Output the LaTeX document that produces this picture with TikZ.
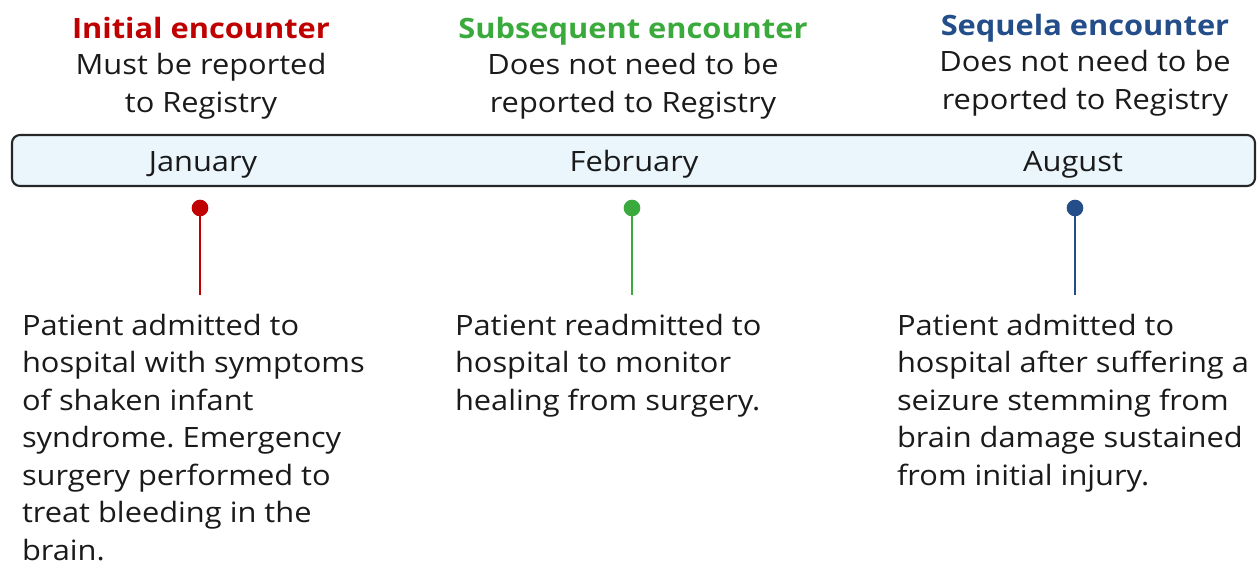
\documentclass[tikz,border=0pt]{standalone}
\usepackage{fontspec}
\setmainfont[FakeStretch=1.1]{Open Sans}
\definecolor{cred}{HTML}{C00000}
\definecolor{cgreen}{HTML}{3AAA3C}
\definecolor{cblue}{HTML}{234E8A}
\definecolor{barfill}{HTML}{EAF5FC}
\definecolor{txt}{HTML}{1A1A1A}
\frenchspacing
\begin{document}
\begin{tikzpicture}[x=0.75pt,y=-0.75pt,
  every node/.style={inner sep=0pt,outer sep=0pt,text=txt},
  bodyfont/.style={font=\fontsize{21}{28.1}\selectfont},
  title/.style={font=\fontsize{21}{28.1}\selectfont\bfseries,anchor=base},
  sub/.style={bodyfont,align=center,anchor=base},
  month/.style={bodyfont,anchor=base},
  desc/.style={bodyfont,align=left,anchor=base west},
  dotc/.style={circle,minimum size=12.5pt},
  stem/.style={line width=1.5pt}]
\useasboundingbox (0,0) rectangle (1260,565);
% bar
\draw[line width=1.6pt,draw=black!85,fill=barfill,rounded corners=6pt] (12,135) rectangle (1255,186);
% headers
\node[title,text=cred] (t1) at (201,38) {Initial encounter};
\node[sub] (s1) at (201,112) {Must be reported\\to Registry};
\node[title,text=cgreen] (t2) at (633,38) {Subsequent encounter};
\node[sub] (s2) at (633,112) {Does not need to be\\reported to Registry};
\node[title,text=cblue] (t3) at (1085,35) {Sequela encounter};
\node[sub] (s3) at (1085,109) {Does not need to be\\reported to Registry};
% months
\node[month] (m1) at (203,171) {January};
\node[month] (m2) at (634,171) {February};
\node[month] (m3) at (1073,171) {August};
% dots and stems
\node[dotc,fill=cred] (d1) at (200,208) {};
\node[dotc,fill=cgreen] (d2) at (632,208) {};
\node[dotc,fill=cblue] (d3) at (1075,208) {};
\coordinate (e1) at (200,295);
\coordinate (e2) at (632,295);
\coordinate (e3) at (1075,295);
\draw[stem,cred] (d1.center) -- (e1);
\draw[stem,cgreen] (d2.center) -- (e2);
\draw[stem,cblue] (d3.center) -- (e3);
% descriptions (anchored at the last line's baseline)
\node[desc] (b1) at (22,560) {Patient admitted to\\hospital with symptoms\\of shaken infant\\syndrome. Emergency\\surgery performed to\\treat bleeding in the\\brain.};
\node[desc] (b2) at (455,410) {Patient readmitted to\\hospital to monitor\\healing from surgery.};
\node[desc] (b3) at (897,485) {Patient admitted to\\hospital after suffering a\\seizure stemming from\\brain damage sustained\\from initial injury.};
\end{tikzpicture}
\end{document}
